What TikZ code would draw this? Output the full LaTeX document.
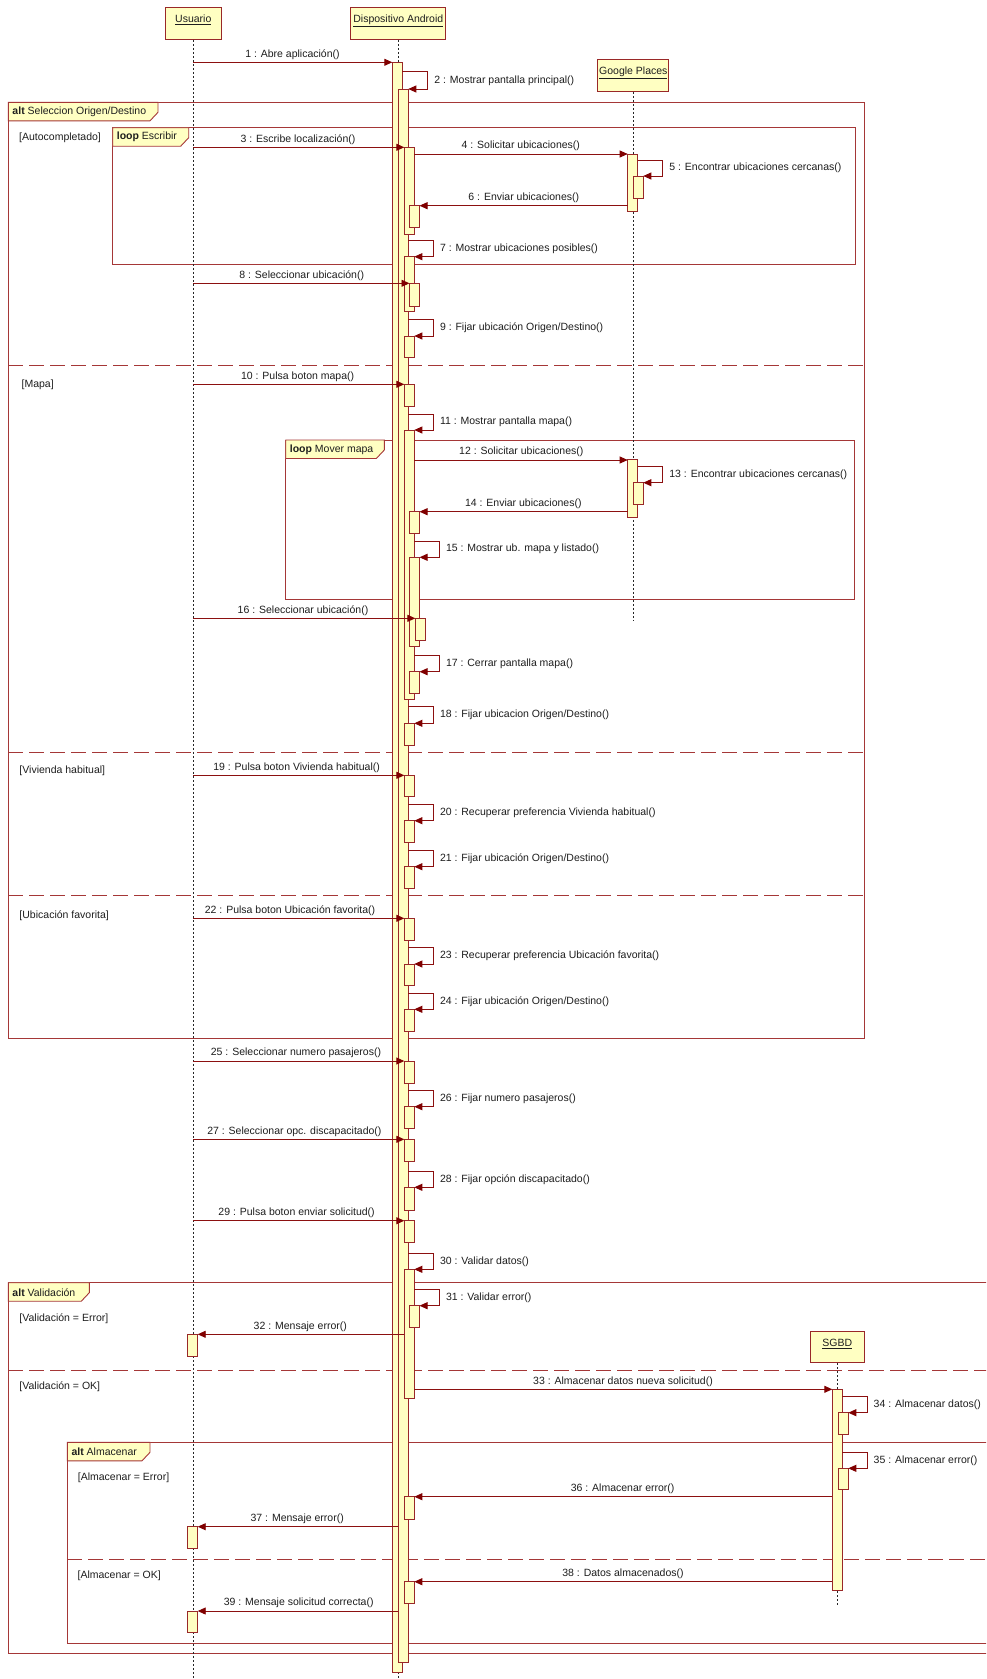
\documentclass[tikz,border=0pt]{standalone}
\usepackage{fontspec}
\setmainfont{Liberation Sans}
\usetikzlibrary{arrows.meta}

\definecolor{lifeyellow}{RGB}{255,255,194}
\definecolor{umlborder}{RGB}{153,40,40}
\definecolor{msgred}{RGB}{140,16,16}
\definecolor{tipred}{RGB}{128,0,0}
\definecolor{framered}{RGB}{165,55,55}
\definecolor{labelink}{RGB}{30,30,30}

\tikzset{
  every node/.style={font=\fontsize{10.5}{12}\selectfont, text=labelink},
  head/.style={draw=umlborder, fill=lifeyellow, line width=0.9pt, minimum height=32pt,
               inner sep=0pt, text depth=9pt},
  lifeline/.style={draw=black!85, line width=0.8pt, dash pattern=on 2pt off 2pt},
  actbar/.style={draw=umlborder, fill=lifeyellow, line width=0.9pt, minimum width=10pt,
                 inner sep=0pt, outer sep=0pt, anchor=north west},
  msgline/.style={draw=msgred, line width=0.9pt, -{Triangle[length=8pt,width=7pt,color=tipred]}},
  msglabel/.style={anchor=center, inner sep=0pt},
  guard/.style={anchor=west, inner sep=0pt},
  frameline/.style={draw=framered, line width=0.9pt},
  sepline/.style={draw=framered, line width=0.9pt, dash pattern=on 15pt off 6pt},
  fragtab/.style={draw=framered, fill=lifeyellow, line width=0.9pt},
  tablabel/.style={anchor=west, inner sep=0pt},
}

% activation bar: name, left x, top y, bottom y
\newcommand\actbox[4]{\node[actbar, minimum height={#4-#3}] (#1) at (#2,#3) {};}
% call message: name, from, to, y, label x, label
\newcommand\callmsg[6]{%
  \draw[msgline] (#2 |- 0,#4) -- (#3 |- 0,#4);
  \node[msglabel] (#1) at (#5,#4-8) {#6};}
% self message: name, from, y1, turn x, to, y2, label
\newcommand\selfmsg[7]{%
  \draw[msgline] (#2 |- 0,#3) -| (#4,#6) -- (#5 |- 0,#6);
  \node[msglabel, anchor=west] (#1) at ({#4+6.5},{(#3+#6)/2}) {#7};}
% fragment tab: name, x0, y0, right x, keyword, title
\newcommand\fragtab[6]{%
  \filldraw[fragtab] (#2,#3) -- (#4,#3) -- (#4,#3+10) -- (#4-8,#3+18.5) -- (#2,#3+18.5) -- cycle;
  \node[tablabel] (#1) at (#2+4,#3+9.5) {\textbf{#5} #6};}

\begin{document}
\begin{tikzpicture}[x=1pt,y=-1pt]
\useasboundingbox (0,0) rectangle (986,1679);
\fill[white] (0,0) rectangle (986,1679);
\clip (0,0) rectangle (986,1679);

% ---- combined fragments ----
\draw[frameline] (8.3,102.3) rectangle (864.3,1038.3);
\draw[sepline] (8.3,365) -- (864.3,365);
\draw[sepline] (8.3,752.3) -- (864.3,752.3);
\draw[sepline] (8.3,895.7) -- (864.3,895.7);
\draw[frameline] (112.7,127.7) rectangle (855,264);
\draw[frameline] (285.7,440) rectangle (854.3,599);
\draw[frameline] (8.3,1282.7) rectangle (1000,1653.3);
\draw[sepline] (8.3,1370.5) -- (1000,1370.5);
\draw[frameline] (67.3,1442.3) rectangle (1000,1643.3);
\draw[sepline] (67.3,1559.3) -- (1000,1559.3);

\fragtab{t1}{8.3}{102.3}{158}{alt}{Seleccion Origen/Destino}
\fragtab{t2}{112.7}{127.7}{188.7}{loop}{Escribir}
\fragtab{t3}{285.7}{440}{384.3}{loop}{Mover mapa}
\fragtab{t4}{8.3}{1282.7}{89.3}{alt}{Validación}
\fragtab{t5}{67.3}{1442.3}{150}{alt}{Almacenar}

% ---- lifelines ----
\node[head, minimum width=56pt] (U) at (193.3,23.3) {\underline{Usuario}};
\node[head, minimum width=95pt] (A) at (398.3,23.3) {\underline{Dispositivo Android}};
\node[head, minimum width=71pt] (G) at (633.3,75.3) {\underline{Google Places}};
\node[head, minimum width=54pt, minimum height=31pt] (S) at (837.3,1347.2) {\underline{SGBD}};
\coordinate (Uend) at (193.3,1679);
\coordinate (Aend) at (398.3,1679);
\coordinate (Gend) at (633.3,620);
\coordinate (Send) at (837.3,1605);
\draw[lifeline] (U) -- (Uend);
\draw[lifeline] (A) -- (Aend);
\draw[lifeline] (G) -- (Gend);
\draw[lifeline] (S) -- (Send);

% ---- activation bars: Dispositivo Android ----
\actbox{a0}{392.3}{62.3}{1672.3}
\actbox{a1}{398.3}{89}{1662.3}
\actbox{a3}{404.3}{147.7}{234}
\actbox{a7}{404.3}{256.7}{311.7}
\actbox{a9}{404.3}{336}{357.7}
\actbox{a10}{404.3}{384.3}{406.7}
\actbox{a11}{404.3}{430}{699.3}
\actbox{a18}{404.3}{723.3}{745}
\actbox{a19}{404.3}{775.3}{796.7}
\actbox{a20}{404.3}{820.7}{842.3}
\actbox{a21}{404.3}{866.7}{888.3}
\actbox{a22}{404.3}{918.3}{940}
\actbox{a23}{404.3}{964}{985.7}
\actbox{a24}{404.3}{1009.3}{1031}
\actbox{a25}{404.3}{1061}{1083.3}
\actbox{a26}{404.3}{1106.7}{1128.3}
\actbox{a27}{404.3}{1139.3}{1161.7}
\actbox{a28}{404.3}{1187.3}{1210}
\actbox{a29}{404.3}{1220.7}{1242.3}
\actbox{a30}{404.3}{1269.3}{1398.3}
\actbox{a36}{404.3}{1496.7}{1519}
\actbox{a38}{404.3}{1581.7}{1603.3}
\actbox{a6}{409.5}{205.7}{227.7}
\actbox{a8}{409.5}{283.3}{306}
\actbox{a14}{409.5}{511.7}{533.3}
\actbox{a15}{409.5}{557.3}{646.7}
\actbox{a17}{409.5}{671.7}{693.3}
\actbox{a31}{409.5}{1305.7}{1327}
\actbox{a16}{415.3}{618.3}{640.7}

% ---- activation bars: Google Places, SGBD, Usuario ----
\actbox{g4}{627.7}{154}{211.7}
\actbox{g5}{633.3}{176}{198.3}
\actbox{g12}{627.7}{459.3}{517.3}
\actbox{g13}{633.3}{482.7}{504.3}
\actbox{s33}{832.3}{1389.3}{1590}
\actbox{s34}{838.3}{1412.7}{1434.3}
\actbox{s35}{838.3}{1468.3}{1489.3}
\actbox{u32}{187.7}{1334.7}{1356.3}
\actbox{u37}{187.7}{1526.7}{1548.3}
\actbox{u39}{187.7}{1611}{1632.7}

% ---- messages ----
\callmsg{m1}{U}{a0.west}{62.3}{292.5}{1 : Abre aplicación()}
\selfmsg{m2}{a0.east}{71.7}{427.7}{a1.east}{89}{2 : Mostrar pantalla principal()}
\callmsg{m3}{U}{a3.west}{147.3}{298}{3 : Escribe localización()}
\callmsg{m4}{a3.east}{g4.west}{154}{520.8}{4 : Solicitar ubicaciones()}
\selfmsg{m5}{g4.east}{160.3}{662.7}{g5.east}{176}{5 : Encontrar ubicaciones cercanas()}
\callmsg{m6}{g4.west}{a6.east}{205.7}{523.8}{6 : Enviar ubicaciones()}
\selfmsg{m7}{a1.east}{240}{433.3}{a7.east}{256.7}{7 : Mostrar ubicaciones posibles()}
\callmsg{m8}{U}{a8.west}{283.3}{301.7}{8 : Seleccionar ubicación()}
\selfmsg{m9}{a1.east}{319.3}{433.3}{a9.east}{336}{9 : Fijar ubicación Origen/Destino()}
\callmsg{m10}{U}{a10.west}{384.3}{297.6}{10 : Pulsa boton mapa()}
\selfmsg{m11}{a1.east}{414}{433.3}{a11.east}{430}{11 : Mostrar pantalla mapa()}
\callmsg{m12}{a11.east}{g12.west}{460}{521.3}{12 : Solicitar ubicaciones()}
\selfmsg{m13}{g12.east}{466}{662.7}{g13.east}{482.7}{13 : Encontrar ubicaciones cercanas()}
\callmsg{m14}{g12.west}{a14.east}{511.7}{523.3}{14 : Enviar ubicaciones()}
\selfmsg{m15}{a11.east}{541}{439.3}{a15.east}{557.3}{15 : Mostrar ub. mapa y listado()}
\callmsg{m16}{U}{a16.west}{618.3}{303}{16 : Seleccionar ubicación()}
\selfmsg{m17}{a11.east}{655}{439.3}{a17.east}{671.7}{17 : Cerrar pantalla mapa()}
\selfmsg{m18}{a1.east}{706.7}{433.3}{a18.east}{723.3}{18 : Fijar ubicacion Origen/Destino()}
\callmsg{m19}{U}{a19.west}{775.3}{296.6}{19 : Pulsa boton Vivienda habitual()}
\selfmsg{m20}{a1.east}{804.3}{433.3}{a20.east}{820.7}{20 : Recuperar preferencia Vivienda habitual()}
\selfmsg{m21}{a1.east}{850}{433.3}{a21.east}{866.7}{21 : Fijar ubicación Origen/Destino()}
\callmsg{m22}{U}{a22.west}{918.3}{290}{22 : Pulsa boton Ubicación favorita()}
\selfmsg{m23}{a1.east}{947.7}{433.3}{a23.east}{964}{23 : Recuperar preferencia Ubicación favorita()}
\selfmsg{m24}{a1.east}{993.3}{433.3}{a24.east}{1009.3}{24 : Fijar ubicación Origen/Destino()}
\callmsg{m25}{U}{a25.west}{1061}{296}{25 : Seleccionar numero pasajeros()}
\selfmsg{m26}{a1.east}{1090}{433.3}{a26.east}{1106.7}{26 : Fijar numero pasajeros()}
\callmsg{m27}{U}{a27.west}{1139.3}{294.4}{27 : Seleccionar opc. discapacitado()}
\selfmsg{m28}{a1.east}{1171.7}{433.3}{a28.east}{1187.3}{28 : Fijar opción discapacitado()}
\callmsg{m29}{U}{a29.west}{1220.7}{296.6}{29 : Pulsa boton enviar solicitud()}
\selfmsg{m30}{a1.east}{1253.3}{433.3}{a30.east}{1269.3}{30 : Validar datos()}
\selfmsg{m31}{a30.east}{1289}{439.3}{a31.east}{1305.7}{31 : Validar error()}
\callmsg{m32}{a30.west}{u32.east}{1334.3}{300.3}{32 : Mensaje error()}
\callmsg{m33}{a30.east}{s33.west}{1389.3}{623}{33 : Almacenar datos nueva solicitud()}
\selfmsg{m34}{s33.east}{1396.7}{867}{s34.east}{1412.7}{34 : Almacenar datos()}
\selfmsg{m35}{s33.east}{1452.3}{867}{s35.east}{1468.3}{35 : Almacenar error()}
\callmsg{m36}{s33.west}{a36.east}{1496.7}{622.6}{36 : Almacenar error()}
\callmsg{m37}{a1.west}{u37.east}{1526.7}{297.2}{37 : Mensaje error()}
\callmsg{m38}{s33.west}{a38.east}{1581.7}{623}{38 : Datos almacenados()}
\callmsg{m39}{a1.west}{u39.east}{1611}{298.7}{39 : Mensaje solicitud correcta()}

% ---- guards ----
\node[guard] (gAuto) at (19,137.7) {[Autocompletado]};
\node[guard] (gMapa) at (21.4,384.3) {[Mapa]};
\node[guard] (gViv) at (19.3,770.8) {[Vivienda habitual]};
\node[guard] (gFav) at (19.3,915.4) {[Ubicación favorita]};
\node[guard] (gVErr) at (19.3,1318.3) {[Validación = Error]};
\node[guard] (gVOk) at (19.3,1386.7) {[Validación = OK]};
\node[guard] (gAErr) at (77.7,1477.7) {[Almacenar = Error]};
\node[guard] (gAOk) at (77.4,1576) {[Almacenar = OK]};
\end{tikzpicture}
\end{document}
